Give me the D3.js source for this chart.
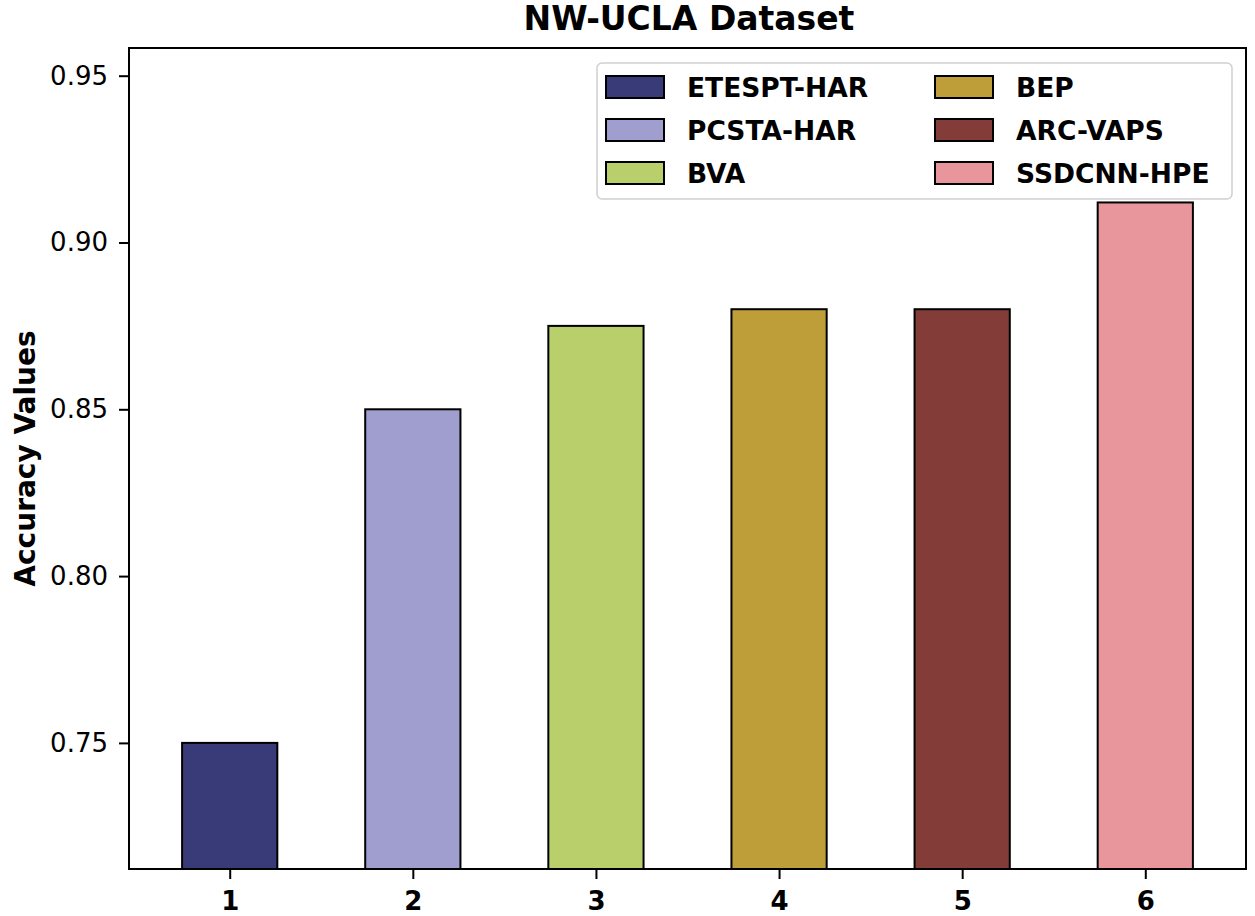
<!DOCTYPE html>
<html>
<head>
<meta charset="utf-8">
<script src="https://cdn.jsdelivr.net/npm/d3@7"></script>
<style>
	body { margin: 0; background: #fff; }
	text { font-family: "DejaVu Sans", sans-serif; }
</style>
</head>
<body>
<svg id="chart" width="1255" height="916"></svg>
<script>
// data
var categories = [1, 2, 3, 4, 5, 6];
var methods = ["ETESPT-HAR", "PCSTA-HAR", "BVA", "BEP", "ARC-VAPS", "SSDCNN-HPE"];
var accuracy = [0.75, 0.85, 0.875, 0.88, 0.88, 0.912];
var colors = ["#393b79", "#a09ecf", "#b8cf6b", "#bd9e39", "#843c39", "#e8969c"];
var yTicks = [0.75, 0.80, 0.85, 0.90, 0.95];

var svg = d3.select("#chart");
var margin = { left: 129, top: 48, right: 1246, bottom: 869 };
var yMin = 0.7122;

var x = d3.scaleLinear().domain([0.45, 6.55]).range([margin.left, margin.right]);
var y = d3.scaleLinear().domain([yMin, 0.9583]).range([margin.bottom, margin.top]);
var barW = x(1.26) - x(0.74);

// bars
svg.selectAll(".bar")
	.data(accuracy)
	.enter().append("rect")
	.attr("class", "bar")
	.attr("x", function(d, i) { return x(categories[i]) - barW / 2; })
	.attr("y", function(d) { return y(d); })
	.attr("width", barW)
	.attr("height", function(d) { return y(yMin) - y(d); })
	.attr("fill", function(d, i) { return colors[i]; })
	.attr("stroke", "#000")
	.attr("stroke-width", 2);

// axes
var yAxis = d3.axisLeft(y).tickValues(yTicks).tickFormat(d3.format(".2f")).tickSize(10).tickPadding(11);
var xAxis = d3.axisBottom(x).tickValues(categories).tickFormat(d3.format("d")).tickSize(10).tickPadding(13);

var gy = svg.append("g").attr("transform", "translate(" + margin.left + ",0)").call(yAxis);
gy.select(".domain").remove();
gy.selectAll("text").attr("font-size", 26).attr("fill", "#000").attr("font-family", "DejaVu Sans");
gy.selectAll("line").attr("stroke", "#000").attr("stroke-width", 2);

var gx = svg.append("g").attr("transform", "translate(0," + margin.bottom + ")").call(xAxis);
gx.select(".domain").remove();
gx.selectAll("text").attr("font-size", 26).attr("font-weight", "bold").attr("fill", "#000").attr("font-family", "DejaVu Sans");
gx.selectAll("line").attr("stroke", "#000").attr("stroke-width", 2);

// frame
svg.append("rect")
	.attr("x", margin.left).attr("y", margin.top)
	.attr("width", margin.right - margin.left).attr("height", margin.bottom - margin.top)
	.attr("fill", "none").attr("stroke", "#000").attr("stroke-width", 2);

// title + y label
svg.append("text")
	.attr("x", 689).attr("y", 30)
	.attr("text-anchor", "middle").attr("font-size", 33).attr("font-weight", "bold")
	.text("NW-UCLA Dataset");

svg.append("text")
	.attr("transform", "translate(35," + ((margin.top + margin.bottom) / 2) + ") rotate(-90)")
	.attr("text-anchor", "middle").attr("font-size", 28).attr("font-weight", "bold")
	.text("Accuracy Values");

// legend
var legend = svg.append("g").attr("transform", "translate(597,63)");
legend.append("rect")
	.attr("width", 635).attr("height", 136).attr("rx", 5)
	.attr("fill", "#fff").attr("fill-opacity", 0.85)
	.attr("stroke", "#d0d0d0").attr("stroke-width", 1.5);

var items = legend.selectAll(".item")
	.data(methods)
	.enter().append("g")
	.attr("class", "item")
	.attr("transform", function(d, i) {
		var col = Math.floor(i / 3), row = i % 3;
		return "translate(" + (9 + col * 329) + "," + (13 + row * 43) + ")";
	});

items.append("rect")
	.attr("width", 58).attr("height", 22)
	.attr("fill", function(d, i) { return colors[i]; })
	.attr("stroke", "#000").attr("stroke-width", 2);

items.append("text")
	.attr("x", 81).attr("y", 21)
	.attr("font-size", 26.5).attr("font-weight", "bold")
	.text(function(d) { return d; });
</script>
</body>
</html>
